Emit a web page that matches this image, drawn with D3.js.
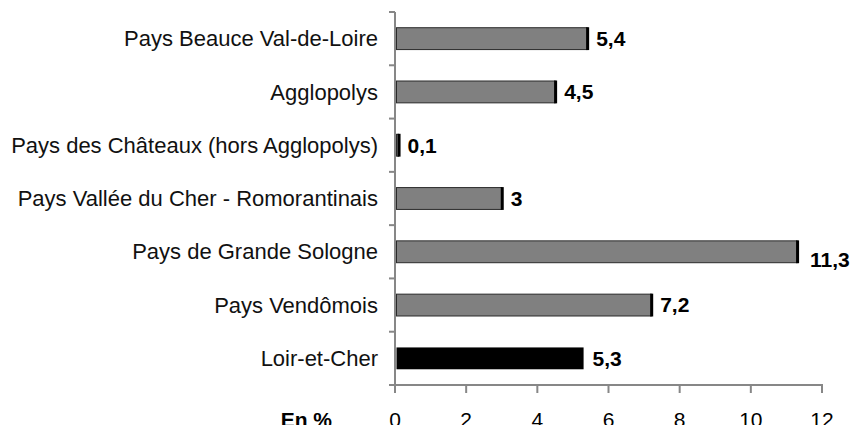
<!DOCTYPE html>
<html>
<head>
<meta charset="utf-8">
<script src="https://cdn.jsdelivr.net/npm/d3@7"></script>
<style>
  body { margin: 0; background: #fff; }
  svg { display: block; font-family: "Liberation Sans", Arial, sans-serif; }
</style>
</head>
<body>
<div class="chart"></div>
<script>
// data
var categories = [
  "Pays Beauce Val-de-Loire",
  "Agglopolys",
  "Pays des Châteaux (hors Agglopolys)",
  "Pays Vallée du Cher - Romorantinais",
  "Pays de Grande Sologne",
  "Pays Vendômois",
  "Loir-et-Cher"
];
var values = [5.4, 4.5, 0.1, 3, 11.3, 7.2, 5.3];
var valueLabels = ["5,4", "4,5", "0,1", "3", "11,3", "7,2", "5,3"];
var xTicks = [0, 2, 4, 6, 8, 10, 12];
var totalCategory = "Loir-et-Cher";

var svgWidth = 857;
var svgHeight = 425;

var svg = d3.select(".chart")
  .append("svg")
  .attr("width", svgWidth)
  .attr("height", svgHeight);

// scales
var xScale = d3.scaleLinear()
  .domain([0, 12])
  .range([395, 822]);

var yScale = d3.scaleBand()
  .domain(categories)
  .range([12, 385])
  .paddingInner(0.59)
  .paddingOuter(0.295);

var step = yScale.step();

// y axis line + ticks (between categories)
var axisColor = "#878787";
svg.append("line")
  .attr("x1", xScale(0)).attr("x2", xScale(0))
  .attr("y1", 12).attr("y2", 385)
  .attr("stroke", axisColor)
  .attr("stroke-width", 2);

svg.selectAll(".ytick")
  .data(d3.range(categories.length + 1))
  .enter()
  .append("line")
  .attr("x1", xScale(0) - 6).attr("x2", xScale(0))
  .attr("y1", i => 12 + i * step)
  .attr("y2", i => 12 + i * step)
  .attr("stroke", axisColor)
  .attr("stroke-width", 2);

// x axis line + ticks
svg.append("line")
  .attr("x1", xScale(0) - 1).attr("x2", xScale(12) + 1)
  .attr("y1", 385).attr("y2", 385)
  .attr("stroke", axisColor)
  .attr("stroke-width", 2);

svg.selectAll(".xtick")
  .data(xTicks)
  .enter()
  .append("line")
  .attr("x1", d => xScale(d)).attr("x2", d => xScale(d))
  .attr("y1", 385).attr("y2", 393)
  .attr("stroke", axisColor)
  .attr("stroke-width", 2);

svg.selectAll(".xlabel")
  .data(xTicks)
  .enter()
  .append("text")
  .attr("x", d => xScale(d))
  .attr("y", 427)
  .attr("text-anchor", "middle")
  .attr("font-size", "21px")
  .attr("fill", "#000")
  .text(d => d);

svg.append("text")
  .attr("x", 332)
  .attr("y", 427)
  .attr("text-anchor", "end")
  .attr("font-size", "21px")
  .attr("font-weight", "bold")
  .text("En %");

// category labels
svg.selectAll(".cat")
  .data(categories)
  .enter()
  .append("text")
  .attr("x", 378)
  .attr("y", d => yScale(d) + yScale.bandwidth() / 2)
  .attr("dy", "0.35em")
  .attr("text-anchor", "end")
  .attr("font-size", "22px")
  .attr("fill", "#111")
  .text(d => d);

// bars
var rows = categories.map((c, i) => ({ cat: c, value: values[i], label: valueLabels[i] }));

svg.selectAll(".bar")
  .data(rows)
  .enter()
  .append("rect")
  .attr("x", xScale(0) + 1.5)
  .attr("y", d => yScale(d.cat))
  .attr("width", d => Math.max(0, xScale(d.value) - xScale(0) - 1.5))
  .attr("height", yScale.bandwidth())
  .attr("fill", d => d.cat === totalCategory ? "#000" : "#808080")
  .attr("stroke", d => d.cat === totalCategory ? "none" : "#2a2a2a")
  .attr("stroke-width", 1);

// thick end caps on grey bars
svg.selectAll(".cap")
  .data(rows.filter(d => d.cat !== totalCategory))
  .enter()
  .append("line")
  .attr("x1", d => xScale(d.value) + 0.5)
  .attr("x2", d => xScale(d.value) + 0.5)
  .attr("y1", d => yScale(d.cat) - 0.5)
  .attr("y2", d => yScale(d.cat) + yScale.bandwidth() + 0.5)
  .attr("stroke", "#000")
  .attr("stroke-width", 3);

// value labels
svg.selectAll(".val")
  .data(rows)
  .enter()
  .append("text")
  .attr("x", d => xScale(d.value) + (d.value > 10 ? 13 : 9))
  .attr("y", d => yScale(d.cat) + yScale.bandwidth() / 2 + (d.value > 10 ? 8 : 0))
  .attr("dy", "0.35em")
  .attr("font-size", "21px")
  .attr("font-weight", "bold")
  .attr("fill", "#000")
  .text(d => d.label);
</script>
</body>
</html>
